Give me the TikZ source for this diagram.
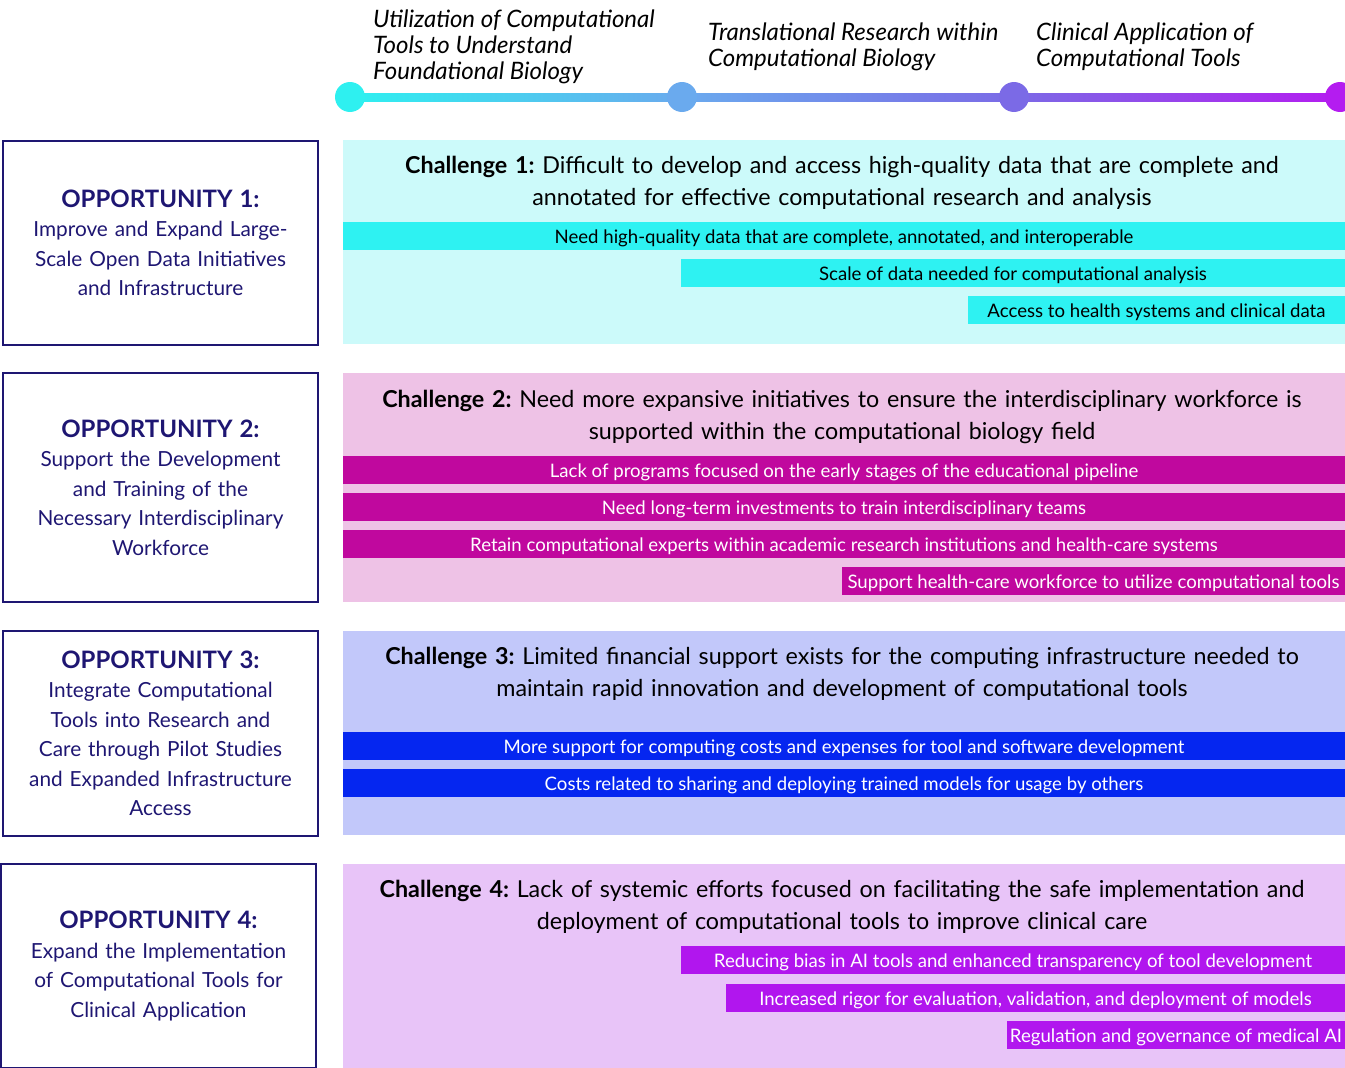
\documentclass[tikz,border=0pt]{standalone}
\usepackage{fontspec}
\setmainfont{Lato}
\usetikzlibrary{calc}
\definecolor{navy}{HTML}{1E1672}
\definecolor{tA}{HTML}{2EF0F0}
\definecolor{tB}{HTML}{6AAAEE}
\definecolor{tC}{HTML}{7B6AE6}
\definecolor{tD}{HTML}{B41CF0}
\definecolor{pA}{HTML}{CCFAFA}
\definecolor{bA}{HTML}{2EF2F2}
\definecolor{pB}{HTML}{EEC2E6}
\definecolor{bB}{HTML}{C0089E}
\definecolor{pC}{HTML}{C2C8FA}
\definecolor{bC}{HTML}{0526F0}
\definecolor{pD}{HTML}{E8C4F8}
\definecolor{bD}{HTML}{B116EE}
\begin{document}
\frenchspacing
\begin{tikzpicture}[x=1pt,y=-1pt,
  dot/.style={circle,inner sep=0,minimum size=30},
  tllabel/.style={anchor=west,align=left,inner sep=0,font=\fontsize{24}{26}\selectfont\itshape},
  oppbox/.style={draw=navy,line width=1.2pt,inner sep=0,outer sep=0,minimum width=315,text width=306,align=center,text=navy,font=\fontsize{20.8}{29.5}\selectfont},
  panel/.style={anchor=north west,inner sep=0,outer sep=0,minimum width=1002},
  bar/.style={anchor=north west,inner sep=0,outer sep=0,minimum height=28,text height=16.5,text depth=1.5,font=\fontsize{18.6}{20}\selectfont},
  ctitle/.style={text width=1000,align=center,inner sep=0,font=\fontsize{23.3}{32}\selectfont}
]
\useasboundingbox (0,0) rectangle (1345,1068);
% timeline
\coordinate (p1) at (350,97);
\coordinate (p2) at (682,97);
\coordinate (p3) at (1014,97);
\coordinate (p4) at (1340,97);
\shade[left color=tA,right color=tB] ($(p1)+(0,-4)$) rectangle ($(p2)+(0,4)$);
\shade[left color=tB,right color=tC] ($(p2)+(0,-4)$) rectangle ($(p3)+(0,4)$);
\shade[left color=tC,right color=tD] ($(p3)+(0,-4)$) rectangle ($(p4)+(0,4)$);
\node[dot,fill=tA] (d1) at (p1) {};
\node[dot,fill=tB] (d2) at (p2) {};
\node[dot,fill=tC] (d3) at (p3) {};
\node[dot,fill=tD] (d4) at (p4) {};
\node[tllabel] (l1) at (373,47) {Utilization of Computational\\Tools to Understand\\Foundational Biology};
\node[tllabel] (l2) at (708,47) {Translational Research within\\Computational Biology};
\node[tllabel] (l3) at (1036,47) {Clinical Application of\\Computational Tools};
% opportunities
\node[oppbox,minimum height=204] (o1) at (160.5,243) {{\fontsize{24}{29.5}\selectfont\bfseries OPPORTUNITY 1:}\\Improve and Expand Large-\\Scale Open Data Initiatives\\and Infrastructure};
\node[oppbox,minimum height=229] (o2) at (160.5,487.5) {{\fontsize{24}{29.5}\selectfont\bfseries OPPORTUNITY 2:}\\Support the Development\\and Training of the\\Necessary Interdisciplinary\\Workforce};
\node[oppbox,minimum height=205] (o3) at (160.5,733.5) {{\fontsize{24}{29.5}\selectfont\bfseries OPPORTUNITY 3:}\\Integrate Computational\\Tools into Research and\\Care through Pilot Studies\\and Expanded Infrastructure\\Access};
\node[oppbox,minimum height=204] (o4) at (158.5,966) {{\fontsize{24}{29.5}\selectfont\bfseries OPPORTUNITY 4:}\\Expand the Implementation\\of Computational Tools for\\Clinical Application};
% challenge 1
\node[panel,fill=pA,minimum height=204] (c1) at (343,140) {};
\node[ctitle] (t1) at (842,183) {\textbf{Challenge 1:} Difficult to develop and access high-quality data that are complete and\\annotated for effective computational research and analysis};
\node[bar,fill=bA,minimum width=1002] (b11) at (343,222) {Need high-quality data that are complete, annotated, and interoperable};
\node[bar,fill=bA,minimum width=664] (b12) at (681,259) {Scale of data needed for computational analysis};
\node[bar,fill=bA,minimum width=377] (b13) at (968,296) {Access to health systems and clinical data};
% challenge 2
\node[panel,fill=pB,minimum height=229] (c2) at (343,373) {};
\node[ctitle] (t2) at (842,417) {\textbf{Challenge 2:} Need more expansive initiatives to ensure the interdisciplinary workforce is\\supported within the computational biology field};
\node[bar,fill=bB,text=white,minimum width=1002] (b21) at (343,456) {Lack of programs focused on the early stages of the educational pipeline};
\node[bar,fill=bB,text=white,minimum width=1002] (b22) at (343,493) {Need long-term investments to train interdisciplinary teams};
\node[bar,fill=bB,text=white,minimum width=1002] (b23) at (343,530) {Retain computational experts within academic research institutions and health-care systems};
\node[bar,fill=bB,text=white,minimum width=503] (b24) at (842,567) {Support health-care workforce to utilize computational tools};
% challenge 3
\node[panel,fill=pC,minimum height=204] (c3) at (343,631) {};
\node[ctitle] (t3) at (842,674) {\textbf{Challenge 3:} Limited financial support exists for the computing infrastructure needed to\\maintain rapid innovation and development of computational tools};
\node[bar,fill=bC,text=white,minimum width=1002] (b31) at (343,732) {More support for computing costs and expenses for tool and software development};
\node[bar,fill=bC,text=white,minimum width=1002] (b32) at (343,769) {Costs related to sharing and deploying trained models for usage by others};
% challenge 4
\node[panel,fill=pD,minimum height=204] (c4) at (343,864) {};
\node[ctitle] (t4) at (842,907) {\textbf{Challenge 4:} Lack of systemic efforts focused on facilitating the safe implementation and\\deployment of computational tools to improve clinical care};
\node[bar,fill=bD,text=white,minimum width=664] (b41) at (681,946) {Reducing bias in AI tools and enhanced transparency of tool development};
\node[bar,fill=bD,text=white,minimum width=619] (b42) at (726,984) {Increased rigor for evaluation, validation, and deployment of models};
\node[bar,fill=bD,text=white,minimum width=338] (b43) at (1007,1021) {Regulation and governance of medical AI};
\end{tikzpicture}
\end{document}
